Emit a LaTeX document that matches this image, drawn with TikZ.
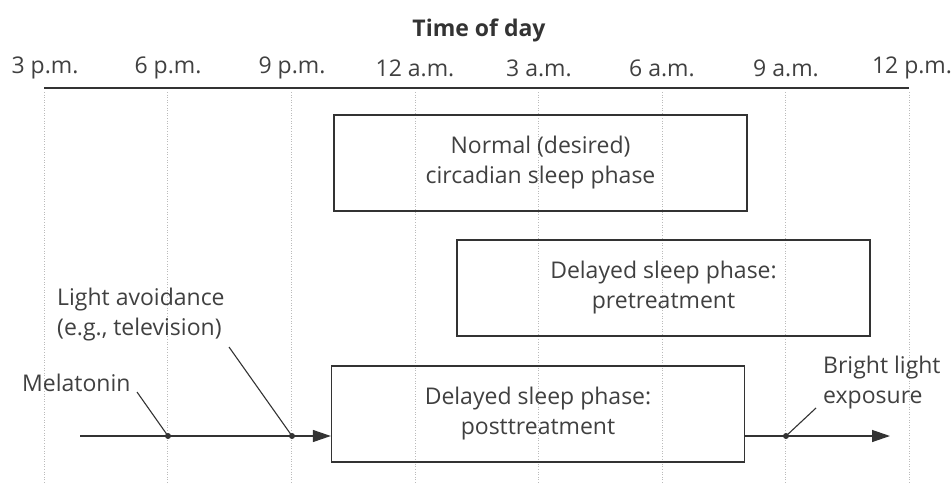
\documentclass[tikz,border=0pt]{standalone}
\usepackage{fontspec}
\setmainfont{Open Sans}
\usetikzlibrary{arrows.meta}
\definecolor{ink}{HTML}{333333}
\definecolor{txt}{HTML}{404040}
\definecolor{grid}{HTML}{BBBBBB}
\tikzset{
  lbl/.style={text=txt, font=\fontsize{23}{30}\selectfont, inner sep=0pt},
  phase/.style={draw=ink, line width=1.3pt, minimum width=413pt, minimum height=96pt, align=center, text=txt, font=\fontsize{23}{30}\selectfont, inner sep=0pt},
  gridline/.style={draw=grid, line width=0.6pt, dotted},
  axis/.style={draw=ink, line width=1.4pt},
  leader/.style={draw=ink, line width=1.1pt},
  flow/.style={draw=ink, line width=1.3pt, -{Triangle[length=18pt,width=12pt]}},
  dot/.style={circle, fill=ink, inner sep=0pt, minimum size=6pt},
}
\begin{document}
\begin{tikzpicture}[x=1pt,y=-1pt]
\useasboundingbox (0,0) rectangle (951,483);
% grid lines
\foreach \i in {0,...,7}{
  \draw[gridline] ({44+123.6*\i},92) -- ({44+123.6*\i},483);
}
\draw[axis] (44,88) -- (909,88);
% title and tick labels
\node[lbl, font=\fontsize{23}{30}\selectfont\bfseries, text=ink] (title) at (479,30) {Time of day};
\node[lbl] (t0) at (45,68) {3 p.m.};
\node[lbl] (t1) at (168,68) {6 p.m.};
\node[lbl] (t2) at (292,68) {9 p.m.};
\node[lbl] (t3) at (415,68) {12 a.m.};
\node[lbl] (t4) at (539,68) {3 a.m.};
\node[lbl] (t5) at (662,68) {6 a.m.};
\node[lbl] (t6) at (786,68) {9 a.m.};
\node[lbl] (t7) at (912,68) {12 p.m.};
% boxes
\node[phase] (normal) at (540.5,163) {Normal (desired)\\circadian sleep phase};
\node[phase] (pre) at (663.5,288) {Delayed sleep phase:\\pretreatment};
\node[phase] (post) at (538,414) {Delayed sleep phase:\\posttreatment};
% flow line
\coordinate (start) at (80,436);
\node[dot] (mel) at (168,436) {};
\node[dot] (light) at (292,436) {};
\node[dot] (bright) at (786,436) {};
\coordinate (endR) at (890,436);
\draw[flow] (start) -- (mel.center) -- (light.center) -- (post.west |- light);
\draw[flow] (post.east |- bright) -- (bright.center) -- (endR);
% annotations
\node[lbl, anchor=west] (mellbl) at (22,383) {Melatonin};
\node[lbl, align=left, anchor=west] (lalbl) at (57,315) {Light avoidance\\(e.g., television)};
\node[lbl, align=left, anchor=west] (brlbl) at (823,383) {Bright light\\exposure};
\coordinate (melA) at (137,392);
\coordinate (laA) at (229,347);
\coordinate (brA) at (816,408);
\draw[leader] (melA) -- (mel.center);
\draw[leader] (laA) -- (light.center);
\draw[leader] (brA) -- (bright.center);
\end{tikzpicture}
\end{document}
